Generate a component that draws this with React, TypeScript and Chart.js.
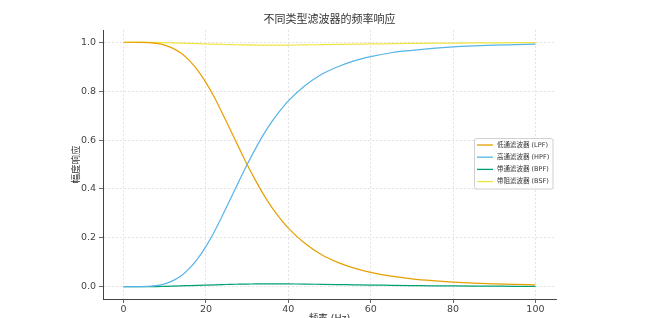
import React, { useEffect, useRef } from "react";
import { Chart, registerables } from "chart.js";

Chart.register(...registerables);

const TITLE = "不同类型滤波器的频率响应";
const X_LABEL = "频率 (Hz)";
const Y_LABEL = "幅度响应";
const SERIES_NAMES = ["低通滤波器 (LPF)", "高通滤波器 (HPF)", "带通滤波器 (BPF)", "带阻滤波器 (BSF)"];
const COLORS = ["#E69F00", "#56B4E9", "#009E73", "#F0E442"];

const X_TICKS = [0, 20, 40, 60, 80, 100];
const Y_TICKS = [0, 0.2, 0.4, 0.6, 0.8, 1.0];

const freq = [0, 4, 8, 10, 12, 14, 16, 18, 20, 22, 24, 26, 28, 30, 32, 34, 36, 38, 40, 44, 48, 52, 56, 60, 65, 70, 75, 80, 85, 90, 95, 100];
const lpf = [1, 0.9997, 0.995, 0.988, 0.975, 0.955, 0.925, 0.885, 0.835, 0.776, 0.709, 0.639, 0.569, 0.5, 0.436, 0.377, 0.325, 0.28, 0.24, 0.178, 0.132, 0.0997, 0.0761, 0.0588, 0.0434, 0.0326, 0.025, 0.0194, 0.0153, 0.0122, 0.0098, 0.008];
const hpf = [0, 0.0003, 0.005, 0.012, 0.025, 0.045, 0.075, 0.115, 0.165, 0.224, 0.291, 0.361, 0.431, 0.5, 0.564, 0.623, 0.675, 0.72, 0.76, 0.822, 0.868, 0.9, 0.924, 0.941, 0.957, 0.967, 0.975, 0.981, 0.985, 0.988, 0.99, 0.992];
const bpf = [0, 0, 0.001, 0.002, 0.003, 0.004, 0.005, 0.006, 0.007, 0.008, 0.009, 0.01, 0.0105, 0.011, 0.0115, 0.012, 0.012, 0.012, 0.0115, 0.011, 0.01, 0.009, 0.008, 0.007, 0.006, 0.005, 0.004, 0.0035, 0.003, 0.0025, 0.002, 0.002];
const bsf = [1, 1, 0.999, 0.998, 0.997, 0.996, 0.995, 0.994, 0.993, 0.992, 0.991, 0.99, 0.9895, 0.989, 0.9885, 0.988, 0.988, 0.988, 0.9885, 0.989, 0.99, 0.991, 0.992, 0.993, 0.994, 0.995, 0.996, 0.9965, 0.997, 0.9975, 0.998, 0.998];

const SERIES = [lpf, hpf, bpf, bsf];
const FONT = "'DejaVu Sans', 'Noto Sans CJK SC', sans-serif";

const overlayPlugin = {
  id: "overlay",
  afterDraw(chart: any) {
    const ctx = chart.ctx;
    const area = chart.chartArea;
    ctx.save();
    // title centred over the plot area
    ctx.font = `11px ${FONT}`;
    ctx.fillStyle = "#333";
    ctx.textAlign = "center";
    ctx.textBaseline = "middle";
    ctx.fillText(TITLE, (area.left + area.right) / 2, 20);

    // legend inside plot area
    const left = 474, top = 138, w = 79, h = 51;
    ctx.fillStyle = "rgba(255,255,255,0.85)";
    ctx.strokeStyle = "#d0d0d0";
    ctx.lineWidth = 1;
    const r = 2;
    ctx.beginPath();
    ctx.moveTo(left + r, top + 0.5);
    ctx.lineTo(left + w - r, top + 0.5);
    ctx.arcTo(left + w, top + 0.5, left + w, top + r, r);
    ctx.lineTo(left + w, top + h - r);
    ctx.arcTo(left + w, top + h, left + w - r, top + h, r);
    ctx.lineTo(left + r, top + h);
    ctx.arcTo(left + 0.5, top + h, left + 0.5, top + h - r, r);
    ctx.lineTo(left + 0.5, top + r);
    ctx.arcTo(left + 0.5, top + 0.5, left + r, top + 0.5, r);
    ctx.closePath();
    ctx.fill();
    ctx.stroke();
    ctx.font = `6.5px ${FONT}`;
    ctx.textAlign = "left";
    ctx.textBaseline = "middle";
    chart.data.datasets.forEach((ds: any, i: number) => {
      const y = 145 + i * 12.2;
      ctx.strokeStyle = ds.borderColor;
      ctx.lineWidth = 1.3;
      ctx.beginPath();
      ctx.moveTo(477, y);
      ctx.lineTo(493, y);
      ctx.stroke();
      ctx.fillStyle = "#333";
      ctx.fillText(ds.label, 497, y);
    });
    ctx.restore();
  },
};

export default function App() {
  const ref = useRef<HTMLCanvasElement>(null);
  useEffect(() => {
    if (!ref.current) return;
    const chart = new Chart(ref.current, {
      type: "line",
      data: {
        datasets: SERIES.map((s, i) => ({
          label: SERIES_NAMES[i],
          data: freq.map((f, j) => ({ x: f, y: s[j] })),
          borderColor: COLORS[i],
          backgroundColor: COLORS[i],
          borderWidth: 1.2,
          pointRadius: 0,
          cubicInterpolationMode: "monotone" as const,
          fill: false,
        })),
      },
      options: {
        responsive: false,
        animation: false,
        events: [],
        layout: { padding: { left: 0, right: 93, top: 30, bottom: 0 } },
        plugins: {
          legend: { display: false },
          tooltip: { enabled: false },
          title: { display: false },
        },
        scales: {
          x: {
            type: "linear",
            min: -5,
            max: 105,
            afterFit: (s: any) => { s.height = 19; },
            afterBuildTicks: (s: any) => { s.ticks = X_TICKS.map((v) => ({ value: v })); },
            ticks: {
              color: "#444",
              font: { family: FONT, size: 9.5 },
              padding: 1,
              maxRotation: 0,
              callback: (v: any) => String(v),
            },
            grid: {
              color: "#dedede",
              lineWidth: 0.8,
              tickColor: "#444",
              tickLength: 4,
              tickWidth: 0.8,
            },
            border: { display: true, color: "#444", width: 1, dash: [2, 2] },
            title: {
              display: true,
              text: X_LABEL,
              color: "#333",
              font: { family: FONT, size: 9.5 },
              padding: { top: 0, bottom: -6 },
            },
          },
          y: {
            type: "linear",
            min: -0.05,
            max: 1.05,
            afterFit: (s: any) => { s.width = 103; },
            afterBuildTicks: (s: any) => { s.ticks = Y_TICKS.map((v) => ({ value: v })); },
            ticks: {
              color: "#444",
              font: { family: FONT, size: 9.5 },
              padding: 3,
              callback: (v: any) => Number(v).toFixed(1),
            },
            grid: {
              color: "#dedede",
              lineWidth: 0.8,
              tickColor: "#444",
              tickLength: 4,
              tickWidth: 0.8,
            },
            border: { display: true, color: "#444", width: 1, dash: [2, 2] },
            title: {
              display: true,
              text: Y_LABEL,
              color: "#333",
              font: { family: FONT, size: 9.5 },
              padding: { top: 71, bottom: 0 },
            },
          },
        },
      },
      plugins: [overlayPlugin],
    });
    return () => chart.destroy();
  }, []);
  return (
    <div style={{ position: "fixed", left: 0, top: 0, width: 649, height: 318, background: "#fff" }}>
      <canvas ref={ref} width={649} height={318} style={{ display: "block" }} />
    </div>
  );
}
